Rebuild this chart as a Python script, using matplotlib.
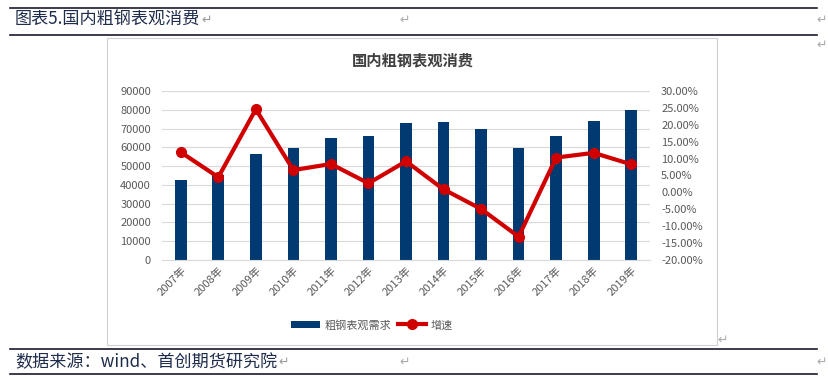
import matplotlib.pyplot as plt
from matplotlib.lines import Line2D
from matplotlib.patches import Rectangle
from matplotlib.ticker import FuncFormatter

plt.rcParams['font.family'] = ['Noto Sans CJK SC', 'DejaVu Sans']

#### DATA ####

years = ["2007年", "2008年", "2009年", "2010年", "2011年", "2012年", "2013年",
         "2014年", "2015年", "2016年", "2017年", "2018年", "2019年"]
demand = [42800, 45300, 56500, 59900, 65100, 66200, 72800,
          73400, 69800, 59900, 66300, 73900, 79800]
growth = [11.9, 4.5, 24.6, 6.6, 8.4, 2.7, 9.2,
          0.9, -4.9, -13.1, 10.3, 11.7, 8.3]

#### PLOT ####

W, H = 829, 380
fig = plt.figure(figsize=(W / 100, H / 100), dpi=100)

def fx(x):
    return x / W

def fy(y):
    return 1 - y / H

# document rules
for y in [7.5, 34.5, 349, 374]:
    fig.add_artist(Line2D([fx(10), fx(817)], [fy(y), fy(y)], color="#1a1a2e", lw=1.2))

# chart box
fig.add_artist(Rectangle((fx(107), fy(345)), fx(717) - fx(107), fy(38) - fy(345),
                         fill=False, edgecolor="#d0d0d0", lw=0.8))

navy = "#1f2d4d"
t1 = fig.text(fx(15), fy(20), "图表5.国内粗钢表观消费", fontsize=12.3, color=navy, va="center")
t2 = fig.text(fx(15), fy(362), "数据来源：wind、首创期货研究院", fontsize=12.3, color=navy, va="center")

# return marks right after the header / footer text
renderer = fig.canvas.get_renderer()
for t, y in [(t1, 20), (t2, 362)]:
    x1 = t.get_window_extent(renderer).x1
    fig.text(x1 / W + 0.001, fy(y), "↵", fontsize=9, color="#999999", va="center")
for (x, y) in [(405, 20), (405, 362), (822, 20), (822, 45), (723, 340), (822, 362)]:
    fig.text(fx(x), fy(y), "↵", fontsize=9, color="#aaaaaa", va="center", ha="center")

fig.text(fx(413), fy(60), "国内粗钢表观消费", fontsize=11, fontweight="bold",
         color="#404040", ha="center", va="center")

ax = fig.add_axes([fx(162), fy(260), fx(650) - fx(162), fy(91) - fy(260)])
x = range(len(years))
bars = ax.bar(x, demand, width=0.31, color="#003a70", zorder=2, label="粗钢表观需求")
ax.set_xlim(-0.5, len(years) - 0.5)
ax.set_ylim(0, 90000)
ax.set_yticks(range(0, 90001, 10000))
ax.grid(axis="y", color="#d9d9d9", lw=0.8, zorder=0)
ax.set_xticks(list(x))
ax.set_xticklabels(years, rotation=45, ha="right", rotation_mode="anchor")
ax.tick_params(axis="both", length=0, labelsize=8, colors="#595959")
ax.tick_params(axis="y", pad=8)
for s in ax.spines.values():
    s.set_visible(False)
ax.spines["bottom"].set_visible(True)
ax.spines["bottom"].set_color("#d9d9d9")

ax2 = ax.twinx()
line, = ax2.plot(x, growth, color="#d00000", lw=3, marker="o", markersize=7, zorder=3, label="增速")
ax2.set_ylim(-20, 30)
ax2.set_yticks(range(-20, 31, 5))
ax2.yaxis.set_major_formatter(FuncFormatter(lambda v, p: "%.2f%%" % v))
ax2.tick_params(axis="y", length=0, labelsize=8, colors="#595959", pad=8)
for s in ax2.spines.values():
    s.set_visible(False)

fig.legend([bars, line], ["粗钢表观需求", "增速"], loc="center", ncol=2,
           bbox_to_anchor=(fx(372), fy(325)), frameon=False, fontsize=8,
           labelcolor="#595959", handlelength=2.6, columnspacing=0.6, handletextpad=0.4)

fig.savefig("out.png", dpi=100)
